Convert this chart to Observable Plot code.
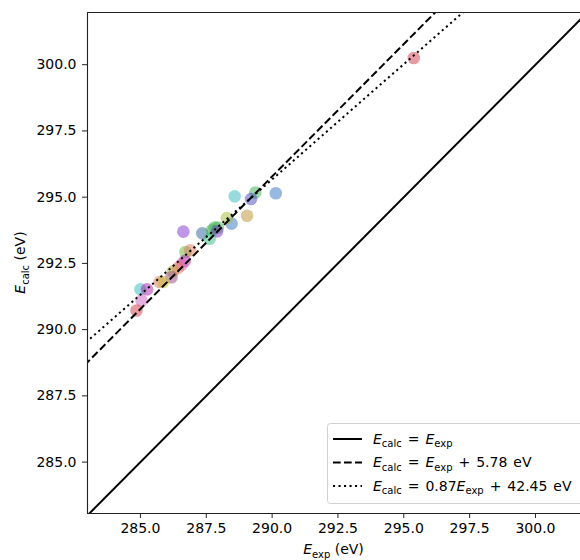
<!DOCTYPE html>
<html>
<head>
<meta charset="utf-8">
<script src="https://cdn.jsdelivr.net/npm/d3@7"></script>
<script src="https://cdn.jsdelivr.net/npm/@observablehq/plot@0.6"></script>
<style>
  body { margin: 0; background: #fff; }
  #chart { width: 580px; height: 560px; overflow: hidden; }
</style>
</head>
<body>
<div id="chart"></div>
<script>
// ---- data ----
const eExp  = [288.58, 290.14, 289.36, 289.20, 289.05, 288.46, 288.28, 286.63, 287.35,
               287.81, 287.94, 287.72, 287.91, 287.63, 286.71, 286.89, 286.68, 286.56,
               286.23, 286.42, 286.18, 285.73, 285.86, 285.00, 285.25, 285.04, 284.85, 295.38];
const eCalc = [295.03, 295.15, 295.17, 294.93, 294.30, 294.00, 294.21, 293.70, 293.64,
               293.85, 293.85, 293.75, 293.71, 293.43, 292.93, 292.99, 292.59, 292.45,
               292.20, 292.32, 291.98, 291.80, 291.80, 291.52, 291.52, 291.10, 290.72, 300.25];
const group = ["teal", "blue", "green", "indigo", "tan", "blue", "olive", "purple", "slate",
               "green", "green", "green", "purple", "seagreen", "lime", "salmon", "magenta", "pink",
               "olive", "salmon", "mauve", "salmon", "yellow", "teal", "magenta", "orchid", "red", "red"];
const xTicks = [285.0, 287.5, 290.0, 292.5, 295.0, 297.5, 300.0];
const yTicks = [285.0, 287.5, 290.0, 292.5, 295.0, 297.5, 300.0];
const fitNames = ["identity", "shift", "linear"];
const fitSlope = [1, 1, 0.87];
const fitIntercept = [0, 5.78, 43.37];
const fitLabelSlope = ["", "", "0.87"];
const fitLabelOffset = ["", " + 5.78 eV", " + 42.45 eV"];

// ---- styles ----
const palette = {
  teal: "#2fb8bd", blue: "#2f74bf", green: "#36b04a", indigo: "#4848c4", tan: "#b98f2e",
  olive: "#a3b52e", purple: "#7e2fd0", slate: "#2f5f96", seagreen: "#2fbd7a", lime: "#62b832",
  salmon: "#df7458", magenta: "#b01cb0", pink: "#df5fa5", mauve: "#9a3f80", yellow: "#c2b92e",
  orchid: "#cc5fbf", red: "#cf3a4a"
};
const dashes = [null, "7.7,3.3", "2.1,3.4"];

const xDomain = [282.99, 301.71];
const yDomain = [283.06, 301.97];

const points = eExp.map((x, i) => ({x, y: eCalc[i], g: group[i]}));
const fitLines = fitNames.map((name, i) => [xDomain[0] - 1, xDomain[1] + 1].map(x => ({
  name, x, y: fitSlope[i] * x + fitIntercept[i]
})));

const font = "DejaVu Sans, sans-serif";

const plot = Plot.plot({
  width: 580,
  height: 560,
  marginLeft: 87,
  marginRight: 0,
  marginTop: 12,
  marginBottom: 47,
  style: {fontFamily: font, fontSize: "14px", color: "#000", background: "#fff"},
  x: {domain: xDomain},
  y: {domain: yDomain},
  color: {domain: Object.keys(palette), range: Object.values(palette)},
  marks: [
    Plot.dot(points, {x: "x", y: "y", fill: "g", fillOpacity: 0.5, r: 6.3, stroke: "none"}),
    ...fitLines.map((ln, i) => Plot.line(ln, {
      x: "x", y: "y", stroke: "#000", strokeWidth: 2, strokeDasharray: dashes[i], clip: true,
      strokeLinecap: "butt"
    })),
    Plot.axisX({ticks: xTicks, tickFormat: d3.format(".1f"), tickSize: 5, tickPadding: 5,
                label: null, stroke: "#222", fontSize: 14}),
    Plot.axisY({ticks: yTicks, tickFormat: d3.format(".1f"), tickSize: 5, tickPadding: 6,
                label: null, stroke: "#222", fontSize: 14}),
    Plot.ruleX([xDomain[0]], {stroke: "#222", strokeWidth: 1.1}),
    Plot.ruleY([yDomain[0]], {stroke: "#222", strokeWidth: 1.1}),
    Plot.ruleY([yDomain[1]], {stroke: "#222", strokeWidth: 1.1})
  ]
});

document.getElementById("chart").appendChild(plot);

// ---- math-style text helper ----
function mathText(sel, parts) {
  let shifted = false;
  parts.forEach(p => {
    const t = sel.append("tspan").text(p.t);
    if (p.i) t.attr("font-style", "italic");
    if (p.sub) {
      t.attr("font-size", 10).attr("dy", shifted ? 0 : 3.5);
      shifted = true;
    } else {
      if (shifted) t.attr("dy", -3.5);
      shifted = false;
    }
  });
  return sel;
}

const svg = d3.select(plot);

// axis labels
mathText(svg.append("text")
  .attr("x", (87 + 580) / 2).attr("y", 554)
  .attr("text-anchor", "middle").attr("font-family", font).attr("font-size", 14).attr("fill", "#000"),
  [{t: "E", i: true}, {t: "exp", sub: true}, {t: " (eV)"}]);

mathText(svg.append("text")
  .attr("transform", `translate(25,${(12 + 513) / 2}) rotate(-90)`)
  .attr("text-anchor", "middle").attr("font-family", font).attr("font-size", 14).attr("fill", "#000"),
  [{t: "E", i: true}, {t: "calc", sub: true}, {t: " (eV)"}]);

// legend
const lg = svg.append("g").attr("text-anchor", "start");
lg.append("rect")
  .attr("x", 327.5).attr("y", 423.5).attr("width", 270).attr("height", 80)
  .attr("rx", 3).attr("fill", "rgba(255,255,255,0.8)").attr("stroke", "#d0d0d0");
fitNames.forEach((name, i) => {
  const cy = 439 + i * 23.5;
  const l = lg.append("line").attr("x1", 333).attr("x2", 362).attr("y1", cy).attr("y2", cy)
    .attr("stroke", "#000").attr("stroke-width", 2);
  if (dashes[i]) l.attr("stroke-dasharray", dashes[i]);
  const parts = [{t: "E", i: true}, {t: "calc", sub: true}, {t: " = " + fitLabelSlope[i]},
                 {t: "E", i: true}, {t: "exp", sub: true}];
  if (fitLabelOffset[i]) parts.push({t: fitLabelOffset[i]});
  mathText(lg.append("text").attr("x", 373).attr("y", cy + 4.5).attr("text-anchor", "start")
    .attr("word-spacing", "1.5px")
    .attr("font-family", font).attr("font-size", 14).attr("fill", "#000"), parts);
});
</script>
</body>
</html>
